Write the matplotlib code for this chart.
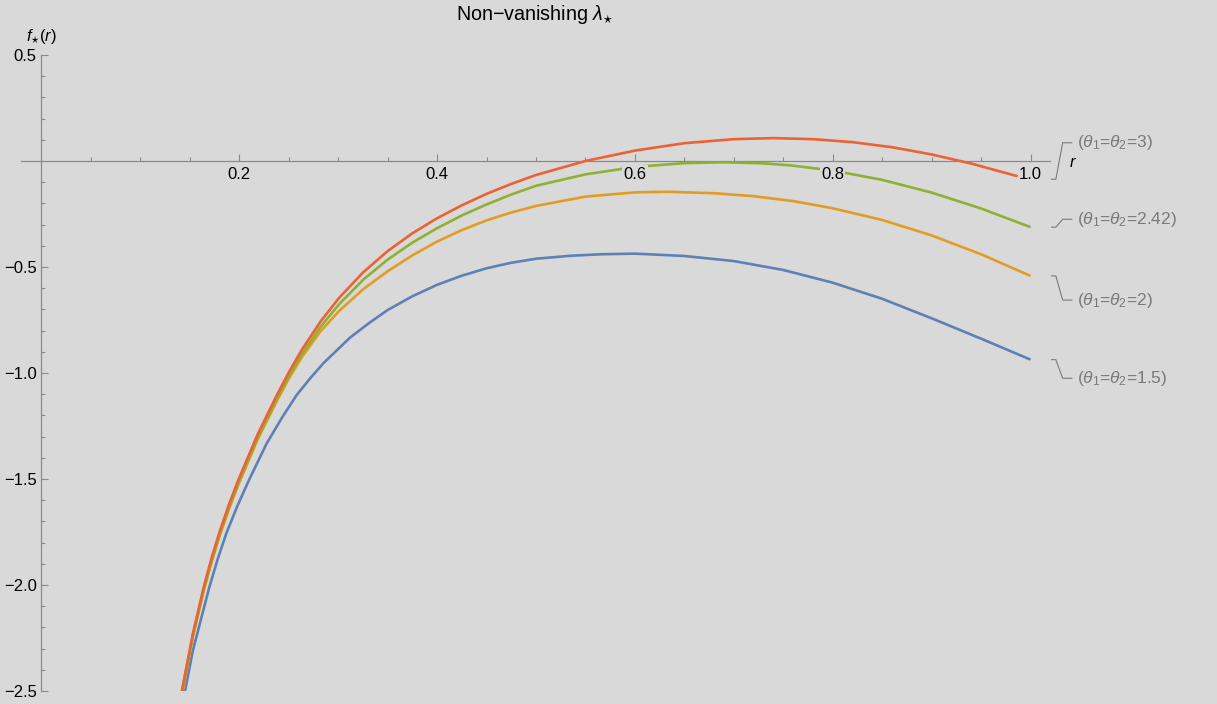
import numpy as np
import matplotlib.pyplot as plt
from matplotlib.ticker import FixedLocator

plt.rcParams['font.family'] = ['Liberation Sans', 'DejaVu Sans']
plt.rcParams['mathtext.fontset'] = 'custom'
plt.rcParams['mathtext.rm'] = 'Liberation Sans'
plt.rcParams['mathtext.it'] = 'Liberation Sans:italic'

### data: f_*(r) for the four theta values ###

r_15 = [0.1451, 0.153, 0.1697, 0.178, 0.187, 0.198, 0.2098, 0.2277, 0.243, 0.258, 0.2715,
        0.285, 0.312, 0.331, 0.35, 0.375, 0.40, 0.425, 0.45, 0.475, 0.50, 0.535, 0.565,
        0.60, 0.65, 0.70, 0.75, 0.80, 0.85, 0.90, 0.95, 1.0]
f_15 = [-2.50, -2.31, -2.01, -1.88, -1.755, -1.628, -1.505, -1.332, -1.212, -1.104, -1.026,
        -0.954, -0.833, -0.765, -0.703, -0.638, -0.584, -0.541, -0.506, -0.48, -0.461,
        -0.447, -0.44, -0.437, -0.448, -0.472, -0.514, -0.574, -0.65, -0.742, -0.838, -0.937]

r_2 = [0.1428, 0.153, 0.164, 0.172, 0.18, 0.1895, 0.199, 0.2185, 0.238, 0.2505, 0.263,
       0.282, 0.301, 0.3255, 0.35, 0.375, 0.40, 0.425, 0.45, 0.475, 0.50, 0.55, 0.60,
       0.632, 0.68, 0.72, 0.76, 0.80, 0.85, 0.90, 0.95, 1.0]
f_2 = [-2.50, -2.245, -2.028, -1.891, -1.77, -1.642, -1.527, -1.314, -1.131, -1.023, -0.927,
       -0.804, -0.707, -0.604, -0.52, -0.445, -0.38, -0.326, -0.28, -0.243, -0.212, -0.168,
       -0.148, -0.145, -0.152, -0.166, -0.189, -0.223, -0.278, -0.351, -0.44, -0.542]

r_242 = [0.142, 0.153, 0.164, 0.172, 0.18, 0.1895, 0.199, 0.2185, 0.238, 0.2505, 0.263,
         0.282, 0.301, 0.3255, 0.35, 0.375, 0.40, 0.425, 0.45, 0.475, 0.50, 0.55, 0.60,
         0.65, 0.69, 0.73, 0.76, 0.80, 0.85, 0.90, 0.95, 1.0]
f_242 = [-2.50, -2.239, -2.022, -1.885, -1.764, -1.636, -1.52, -1.306, -1.122, -1.012, -0.913,
         -0.783, -0.675, -0.559, -0.465, -0.385, -0.317, -0.257, -0.205, -0.158, -0.117,
         -0.063, -0.028, -0.010, -0.006, -0.011, -0.022, -0.045, -0.089, -0.149, -0.224, -0.312]

r_3 = [0.142, 0.153, 0.164, 0.172, 0.18, 0.1895, 0.199, 0.2185, 0.238, 0.2505, 0.263,
       0.282, 0.301, 0.3255, 0.35, 0.375, 0.40, 0.425, 0.45, 0.475, 0.50, 0.55, 0.60,
       0.65, 0.70, 0.74, 0.78, 0.82, 0.86, 0.90, 0.94, 0.987]
f_3 = [-2.50, -2.231, -2.01, -1.872, -1.75, -1.621, -1.505, -1.29, -1.104, -0.993, -0.892,
       -0.758, -0.645, -0.524, -0.425, -0.341, -0.27, -0.209, -0.155, -0.108, -0.066, 0.0,
       0.049, 0.084, 0.103, 0.108, 0.103, 0.089, 0.065, 0.031, -0.012, -0.072]

series = [(r_15, f_15), (r_2, f_2), (r_242, f_242), (r_3, f_3)]
colors = ['#5e81b5', '#e19c24', '#8fb032', '#eb6235']
names = [r'($\theta_1$=$\theta_2$=1.5)', r'($\theta_1$=$\theta_2$=2)',
         r'($\theta_1$=$\theta_2$=2.42)', r'($\theta_1$=$\theta_2$=3)']
lead_y = [-0.937, -0.542, -0.312, -0.086]
name_y = [-1.025, -0.656, -0.275, 0.086]

x_major = [0.2, 0.4, 0.6, 0.8, 1.0]
x_labels = ['0.2', '0.4', '0.6', '0.8', '1.0']
y_major = [-2.5, -2.0, -1.5, -1.0, -0.5, 0.5]
y_labels = ['\u22122.5', '\u22122.0', '\u22121.5', '\u22121.0', '\u22120.5', '0.5']

### figure ###

bg = '#d9d9d9'
axcol = '#8a8a8a'
labcol = '#7a7a7a'
fig = plt.figure(figsize=(12.17, 7.04), dpi=100, facecolor=bg)
ax = fig.add_axes([0.01703, 0.01847, 0.8460, 0.9034])
ax.set_facecolor(bg)
ax.set_xlim(-0.021, 1.02)
ax.set_ylim(-2.5, 0.5)

for (r, f), c in zip(series, colors):
    ax.plot(r, f, color=c, lw=1.9, zorder=2, solid_capstyle='butt', solid_joinstyle='round')

# axes through the origin
for s in ['top', 'right']:
    ax.spines[s].set_visible(False)
ax.spines['left'].set_position(('data', 0))
ax.spines['bottom'].set_position(('data', 0))
for s in ['left', 'bottom']:
    ax.spines[s].set_color(axcol)
    ax.spines[s].set_linewidth(0.9)
    ax.spines[s].set_zorder(1)

ax.xaxis.set_major_locator(FixedLocator(x_major))
ax.set_xticklabels(x_labels)
ax.xaxis.set_minor_locator(FixedLocator(np.arange(0.05, 1.01, 0.05)))
ax.yaxis.set_major_locator(FixedLocator(y_major))
ax.set_yticklabels(y_labels)
ax.yaxis.set_minor_locator(FixedLocator(np.arange(-2.5, 0.51, 0.1)))

ax.tick_params(which='both', direction='in', color=axcol, width=0.8, labelsize=12, labelcolor='black')
ax.tick_params(which='major', length=5)
ax.tick_params(which='minor', length=3)
ax.tick_params(axis='x', pad=4)
ax.tick_params(axis='y', pad=3.5)
ax.xaxis.set_zorder(5)
ax.yaxis.set_zorder(5)
# tick labels sit on an opaque patch, so curves passing under them are cut
for lbl in ax.get_xticklabels():
    lbl.set_bbox(dict(facecolor=bg, edgecolor='none', pad=0.8))

# axis labels and title
ax.text(0.0, 0.5 + 0.085, r'$f_{\star}(r)$', ha='center', va='center', fontsize=12)
ax.text(1.039, -0.005, r'$r$', ha='left', va='center', fontsize=12, clip_on=False)
fig.text(535 / 1217, 1 - 14 / 704, 'Non\u2212vanishing $\\lambda_{\\star}$',
         ha='center', va='center', fontsize=14.2)

# curve labels with leader lines
for txt, ly, ty in zip(names, lead_y, name_y):
    ax.plot([1.0213, 1.0256, 1.0325, 1.0417], [ly, ly, ty, ty],
            color=labcol, lw=0.8, clip_on=False)
    ax.text(1.047, ty, txt, ha='left', va='center', fontsize=12.5,
            color=labcol, clip_on=False)

fig.savefig('out.png', dpi=100, facecolor=bg)
